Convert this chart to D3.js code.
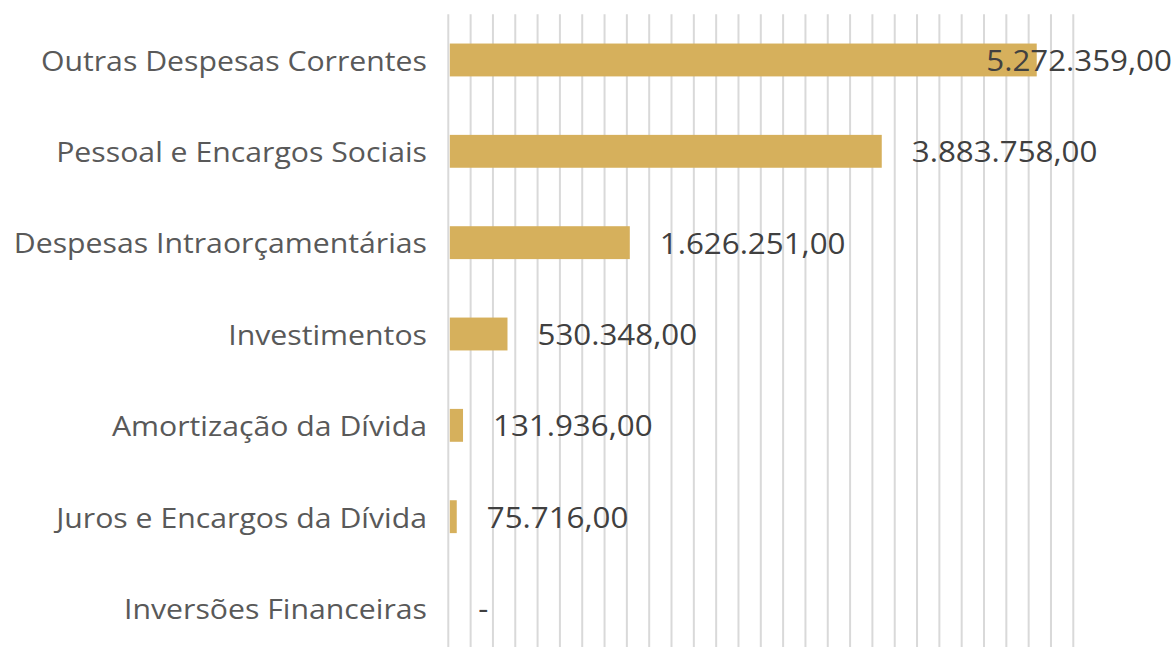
<!DOCTYPE html>
<html>
<head>
	<title>Despesas</title>
	<style type="text/css">
		body{ margin:0; background:#fff; }
		.chart text{ font-family: "Open Sans", "Liberation Sans", sans-serif; }
	</style>
</head>
<body>
	<svg width=1176 height=647 class="chart"></svg>
	<script type="text/javascript" src="https://cdn.jsdelivr.net/npm/d3@7"></script>
	<script type="text/javascript">

		categories = ['Outras Despesas Correntes', 'Pessoal e Encargos Sociais', 'Despesas Intraorçamentárias',
			'Investimentos', 'Amortização da Dívida', 'Juros e Encargos da Dívida', 'Inversões Financeiras']
		values = [5272359, 3883758, 1626251, 530348, 131936, 75716, 0]
		axis_max = 5600000
		grid_step = 200000

		svg = d3.select('.chart')

		x = d3.scaleLinear()
			.domain([0, axis_max])
			.range([448.3, 1073.3])

		y = d3.scaleBand()
			.domain(categories)
			.range([14.3, 653.7])
			.paddingInner(0.64)
			.paddingOuter(0.32)

		br = d3.formatLocale({decimal: ',', thousands: '.', grouping: [3], currency: ['', '']})
		fmt = br.format(',.2f')

		// the source picture is a bit wider than tall, so text is stretched sideways
		label_stretch = 1.12
		value_stretch = 1.08

		// grid lines
		svg.append('g')
			.selectAll('line')
			.data(d3.range(0, axis_max + 1, grid_step))
			.enter()
			.append('line')
			.attr('x1', function(d){return x(d)})
			.attr('x2', function(d){return x(d)})
			.attr('y1', y.range()[0])
			.attr('y2', y.range()[1])
			.attr('stroke', '#d9d9d9')
			.attr('stroke-width', 2)

		data = categories.map(function(c, i){ return {name: c, value: values[i]} })

		// bars
		svg.append('g')
			.selectAll('rect')
			.data(data)
			.enter()
			.append('rect')
			.attr('x', x(0) + 1.5)
			.attr('y', function(d){return y(d.name)})
			.attr('width', function(d){return Math.max(0, x(d.value) - x(0) - 1.5)})
			.attr('height', y.bandwidth())
			.attr('fill', '#d6b05c')

		// category labels
		svg.append('g')
			.selectAll('text')
			.data(data)
			.enter()
			.append('text')
			.attr('transform', function(d){
				return 'translate(427,' + (y(d.name) + y.bandwidth()/2) + ') scale(' + label_stretch + ',1)'
			})
			.attr('text-anchor', 'end')
			.attr('dominant-baseline', 'central')
			.attr('font-size', 27)
			.attr('fill', '#595959')
			.text(function(d){return d.name})

		// value labels, pushed back inside when they overflow the right edge
		svg.append('g')
			.selectAll('text')
			.data(data)
			.enter()
			.append('text')
			.attr('dominant-baseline', 'central')
			.attr('font-size', 29)
			.attr('fill', '#404040')
			.text(function(d){return d.value == 0 ? '-' : fmt(d.value)})
			.attr('transform', function(d){
				var w = this.getComputedTextLength() * value_stretch
				var px = x(d.value) + 30
				if (px + w > 1172) px = 1172 - w
				return 'translate(' + px + ',' + (y(d.name) + y.bandwidth()/2) + ') scale(' + value_stretch + ',1)'
			})

	</script>
</body>
</html>
